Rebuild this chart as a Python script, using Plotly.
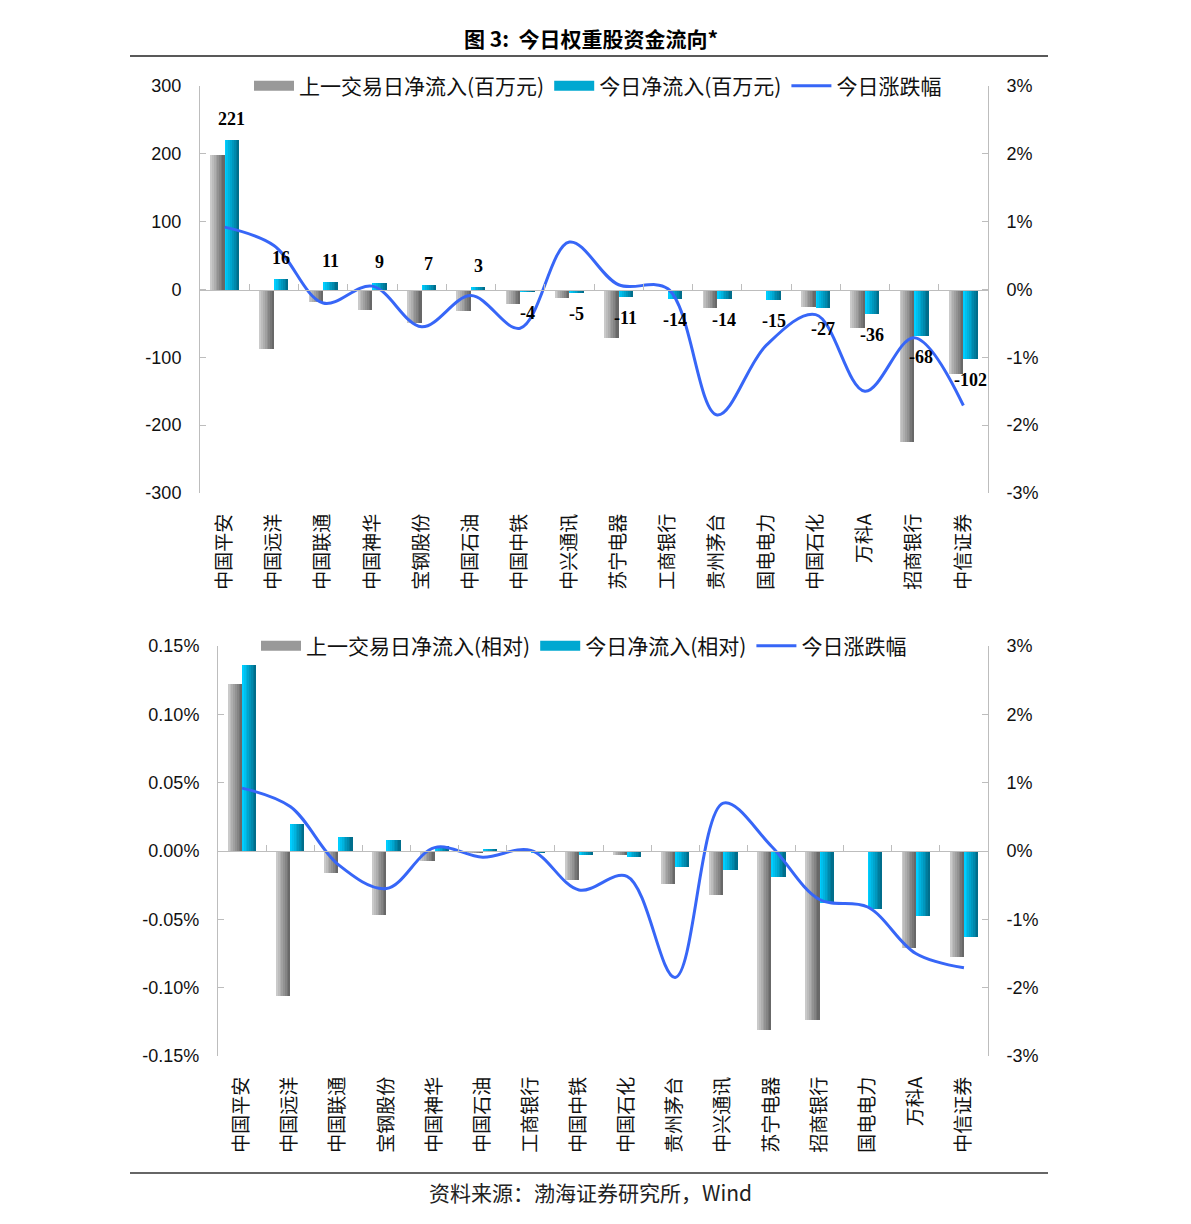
import plotly.graph_objects as go

# ---------------- données ----------------
# graphique du haut : flux nets en millions de yuans
cats_top = ["中国平安", "中国远洋", "中国联通", "中国神华", "宝钢股份", "中国石油", "中国中铁", "中兴通讯",
            "苏宁电器", "工商银行", "贵州茅台", "国电电力", "中国石化", "万科A", "招商银行", "中信证券"]
prev_top = [199, -88, -19, -30, -50, -32, -22, -13, -72, 0, -28, 0, -26, -57, -225, -125]
today_top = [221, 16, 11, 9, 7, 3, -4, -5, -11, -14, -14, -15, -27, -36, -68, -102]
# 今日涨跌幅 (%), dans l'ordre de cats_top
chg_top = [0.92, 0.65, -0.20, 0.05, -0.55, -0.09, -0.57, 0.70,
           0.07, 0.01, -1.85, -0.82, -0.37, -1.50, -0.71, -1.71]

# graphique du bas : flux nets relatifs (%)
cats_bot = ["中国平安", "中国远洋", "中国联通", "宝钢股份", "中国神华", "中国石油", "工商银行", "中国中铁",
            "中国石化", "贵州茅台", "中兴通讯", "苏宁电器", "招商银行", "国电电力", "万科A", "中信证券"]
prev_bot = [0.122, -0.106, -0.016, -0.047, -0.007, -0.001, 0.0, -0.021,
            -0.003, -0.0245, -0.032, -0.131, -0.124, 0.0, -0.071, -0.0775]
today_bot = [0.136, 0.020, 0.0105, 0.008, 0.0035, 0.0017, -0.001, -0.0032,
             -0.0047, -0.012, -0.014, -0.0187, -0.038, -0.0424, -0.0473, -0.0628]

# axes
y1_ticks = [300, 200, 100, 0, -100, -200, -300]
y1_text = ["300", "200", "100", "0", "-100", "-200", "-300"]
pct_ticks = [3, 2, 1, 0, -1, -2, -3]
pct_text = ["3%", "2%", "1%", "0%", "-1%", "-2%", "-3%"]
rel_ticks = [0.15, 0.10, 0.05, 0, -0.05, -0.10, -0.15]
rel_text = ["0.15%", "0.10%", "0.05%", "0.00%", "-0.05%", "-0.10%", "-0.15%"]

chg_bot = [chg_top[cats_top.index(c)] for c in cats_bot]

W, H = 1191, 1224
CJK = "Noto Sans CJK SC"
NUM = "Liberation Sans"
AXC = "#bdbdbd"

GRIS = ((202, 202, 202), (104, 104, 104))
CYAN = ((0, 206, 255), (0, 110, 140))
N = 8          # tranches pour simuler le dégradé
BW = 0.295     # largeur d'une barre (unités de catégorie)


def px(x):
    return x / W


def py(y):
    return 1 - y / H


def mix(c1, c2, t):
    return "rgb(%d,%d,%d)" % tuple(round(a + (b - a) * t) for a, b in zip(c1, c2))


def add_bars(fig, vals, colors, start, xa, ya):
    xs = list(range(len(vals)))
    for k in range(N):
        fig.add_trace(go.Bar(
            x=xs, y=vals,
            width=BW * (N - k) / N,
            offset=start + BW * k / N,
            marker=dict(color=mix(*colors, k / (N - 1)), line=dict(width=0)),
            showlegend=False, hoverinfo="skip",
            xaxis=xa, yaxis=ya,
        ))


def add_legend_items(fig, names, legend, xa, ya):
    for name, col in zip(names, [mix(*GRIS, 0.5), mix(*CYAN, 0.4)]):
        fig.add_trace(go.Scatter(
            x=[None], y=[None], mode="lines", name=name,
            line=dict(color=col, width=12),
            legend=legend, xaxis=xa, yaxis=ya,
        ))


fig = go.Figure()

# ---------- graphique du haut ----------
add_legend_items(fig, ["上一交易日净流入(百万元)", "今日净流入(百万元)"], "legend", "x", "y")
add_bars(fig, prev_top, GRIS, -BW, "x", "y")
add_bars(fig, today_top, CYAN, 0, "x", "y")
fig.add_trace(go.Scatter(
    x=list(range(len(chg_top))), y=chg_top, mode="lines", name="今日涨跌幅",
    line=dict(color="#3766f7", width=3, shape="spline", smoothing=1),
    legend="legend", xaxis="x", yaxis="y2",
))
fig.add_trace(go.Scatter(x=[None], y=[None], xaxis="x3", yaxis="y", showlegend=False))

for i, v in enumerate(today_top):
    fig.add_annotation(
        x=i + BW / 2, y=v, xref="x", yref="y", text="<b>%d</b>" % v, showarrow=False,
        yanchor="bottom" if v > 0 else "top", yshift=9 if v > 0 else -9,
        font=dict(family="Liberation Serif", size=18, color="black"),
    )

# ---------- graphique du bas ----------
add_legend_items(fig, ["上一交易日净流入(相对)", "今日净流入(相对)"], "legend2", "x2", "y3")
add_bars(fig, prev_bot, GRIS, -BW, "x2", "y3")
add_bars(fig, today_bot, CYAN, 0, "x2", "y3")
fig.add_trace(go.Scatter(
    x=list(range(len(chg_bot))), y=chg_bot, mode="lines", name="今日涨跌幅",
    line=dict(color="#3766f7", width=3, shape="spline", smoothing=1),
    legend="legend2", xaxis="x2", yaxis="y4",
))
fig.add_trace(go.Scatter(x=[None], y=[None], xaxis="x4", yaxis="y3", showlegend=False))

# ---------- axes ----------
dom_x1 = [px(200), px(988)]
dom_y1 = [py(493), py(86)]
dom_x2 = [px(218), px(988)]
dom_y2 = [py(1056), py(646)]
xr = [-0.5, 15.5]

cat_axis = dict(range=xr, showline=False, ticks="", showgrid=False, zeroline=False, automargin=False,
                tickangle=-90, ticklabelstandoff=16, tickfont=dict(family=CJK, size=19, color="#111"))
zero_axis = dict(range=xr, anchor="free", showline=True, linecolor=AXC, linewidth=1,
                 ticks="inside", ticklen=6, tickcolor=AXC, tickvals=[i + 0.5 for i in range(15)],
                 showticklabels=False, showgrid=False, zeroline=False)
val_axis = dict(showline=True, linecolor=AXC, linewidth=1, ticks="inside", ticklen=6, tickcolor=AXC,
                showgrid=False, zeroline=False, ticklabelstandoff=14, automargin=False,
                tickfont=dict(family=NUM, size=18, color="#111"))

fig.update_layout(
    xaxis=dict(cat_axis, domain=dom_x1, anchor="y", tickvals=list(range(16)), ticktext=cats_top),
    yaxis=dict(val_axis, domain=dom_y1, anchor="x", range=[-300, 300], tickvals=y1_ticks, ticktext=y1_text),
    yaxis2=dict(val_axis, overlaying="y", side="right", anchor="x", range=[-3, 3],
                tickvals=pct_ticks, ticktext=pct_text),
    xaxis3=dict(zero_axis, overlaying="x", position=sum(dom_y1) / 2),
    xaxis2=dict(cat_axis, domain=dom_x2, anchor="y3", tickvals=list(range(16)), ticktext=cats_bot),
    yaxis3=dict(val_axis, domain=dom_y2, anchor="x2", range=[-0.15, 0.15], tickvals=rel_ticks, ticktext=rel_text),
    yaxis4=dict(val_axis, overlaying="y3", side="right", anchor="x2", range=[-3, 3],
                tickvals=pct_ticks, ticktext=pct_text),
    xaxis4=dict(zero_axis, overlaying="x2", position=sum(dom_y2) / 2),
)

leg = dict(orientation="h", xanchor="left", yanchor="middle", itemwidth=40,
           bgcolor="rgba(0,0,0,0)", font=dict(family=CJK, size=21, color="#111"))
fig.update_layout(
    legend=dict(leg, x=px(249), y=py(86)),
    legend2=dict(leg, x=px(256), y=py(646)),
)

# titre, filets et source
fig.add_annotation(x=px(591), y=py(38), xref="paper", yref="paper", showarrow=False, yanchor="middle",
                   text="<b>图 3:  今日权重股资金流向*</b>",
                   font=dict(family=CJK, size=21, color="black"))
fig.add_annotation(x=px(590), y=py(1192), xref="paper", yref="paper", showarrow=False, yanchor="middle",
                   text="资料来源：渤海证券研究所，Wind",
                   font=dict(family=CJK, size=21, color="#222"))
fig.add_shape(type="line", xref="paper", yref="paper", x0=px(130), x1=px(1048), y0=py(56), y1=py(56),
              line=dict(color="#222", width=1.5))
fig.add_shape(type="line", xref="paper", yref="paper", x0=px(130), x1=px(1048), y0=py(1173), y1=py(1173),
              line=dict(color="#666", width=2))

fig.update_layout(
    width=W, height=H, margin=dict(l=0, r=0, t=0, b=0, autoexpand=False),
    barmode="overlay", bargap=0,
    plot_bgcolor="white", paper_bgcolor="white",
    showlegend=True,
)

fig.write_html("out.html", config={"displayModeBar": False},
               post_script="document.body.style.margin='0';document.body.style.overflow='hidden';")
